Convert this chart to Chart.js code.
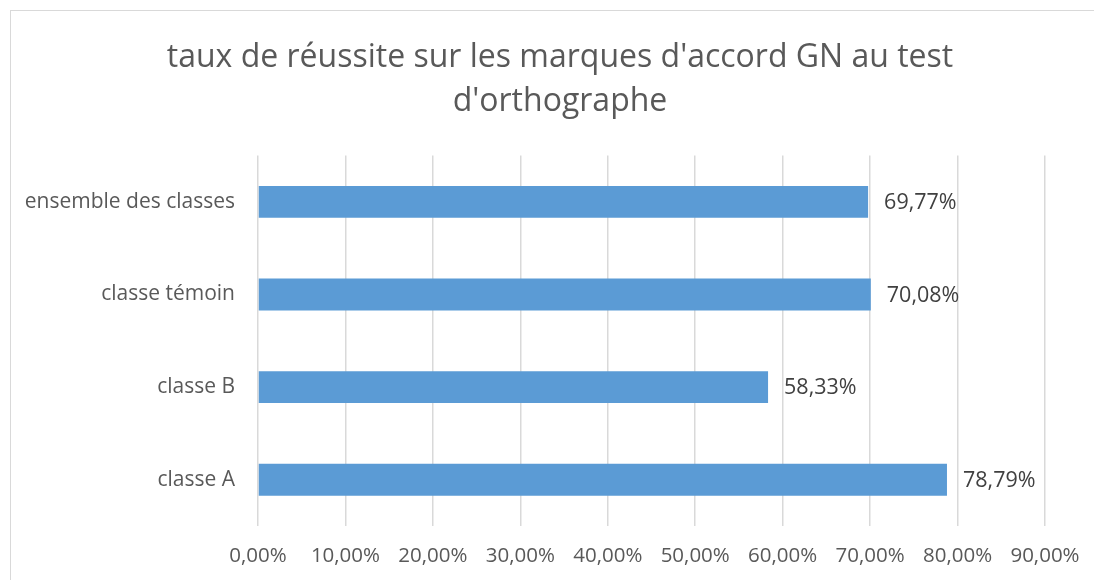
<!DOCTYPE html>
<html lang="fr">
<head>
  <meta charset="UTF-8">
  <title>taux de réussite</title>
  <script src="https://cdn.jsdelivr.net/npm/chart.js@4"></script>
  <style>
    html, body {
      margin: 0;
      padding: 0;
      background: #fff;
      overflow: hidden;
    }
    .cadre {
      position: absolute;
      left: 10px;
      top: 10px;
      width: 1100px;
      height: 600px;
      border: 1.5px solid #d9d9d9;
    }
    #graph {
      position: absolute;
      left: 0;
      top: 0;
    }
  </style>
</head>
<body>
  <div class="cadre"></div>
  <canvas id="graph" width="1094" height="580"></canvas>
  <script>
    const titre = ["taux de réussite sur les marques d'accord GN au test", "d'orthographe"];
    const classes = ["ensemble des classes", "classe témoin", "classe B", "classe A"];
    const taux = [69.77, 70.08, 58.33, 78.79];
    const axeMax = 90;
    const axePas = 10;

    const police = "'Open Sans', sans-serif";
    const pct = v => Number(v).toFixed(2).replace('.', ',') + '%';

    // etiquettes de valeur au bout des barres
    const etiquettes = {
      id: 'etiquettes',
      afterLayout(chart) {
        // titre centré sur le cadre, pas sur le canvas
        const t = chart.titleBlock;
        if (t) { t.left = 75; t.width = t.right - t.left; }
      },
      afterDatasetsDraw(chart) {
        const ctx = chart.ctx;
        const meta = chart.getDatasetMeta(0);
        ctx.save();
        ctx.font = "21.5px " + police;
        ctx.fillStyle = '#404040';
        ctx.textAlign = 'left';
        ctx.textBaseline = 'middle';
        meta.data.forEach((bar, i) => {
          ctx.fillText(pct(taux[i]), bar.x + 16, bar.y + 1);
        });
        ctx.restore();
      }
    };

    new Chart(document.getElementById('graph'), {
      type: 'bar',
      data: {
        labels: classes,
        datasets: [{
          data: taux,
          backgroundColor: '#5b9bd5',
          barPercentage: 0.69,
          categoryPercentage: 0.5
        }]
      },
      options: {
        indexAxis: 'y',
        responsive: false,
        animation: false,
        layout: { padding: { left: 0, right: 49, top: 0, bottom: 0 } },
        plugins: {
          legend: { display: false },
          tooltip: { enabled: false },
          title: {
            display: true,
            text: titre,
            color: '#595959',
            font: { family: police, size: 32, weight: 'normal', lineHeight: 1.4 },
            padding: { top: 35, bottom: 31 }
          }
        },
        scales: {
          x: {
            min: 0,
            max: axeMax,
            ticks: {
              stepSize: axePas,
              color: '#595959',
              font: { family: police, size: 20.5 },
              padding: 18,
              callback: v => pct(v)
            },
            grid: { color: '#d9d9d9', lineWidth: 1.5, drawTicks: false },
            border: { display: false },
            afterFit: s => { s.height = 54; s.paddingLeft = 0; s.paddingRight = 0; }
          },
          y: {
            ticks: {
              color: '#595959',
              font: { family: police, size: 21 },
              padding: 15
            },
            grid: { display: false },
            border: { display: false },
            afterFit: s => { s.width = 258; }
          }
        }
      },
      plugins: [etiquettes]
    });
  </script>
</body>
</html>
